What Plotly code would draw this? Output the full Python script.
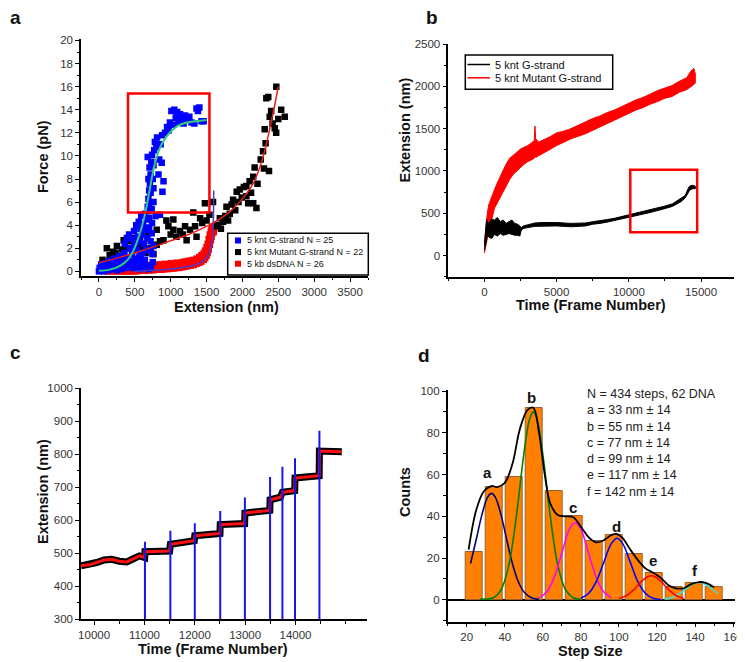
import plotly.graph_objects as go

# ---------------- Panel a : force-extension ----------------
blue_x = [0, 10, 20, 30, 45, 60, 70, 85, 100, 115, 130, 140, 160, 175, 190, 205, 220, 235, 250, 265, 280, 295, 310, 325, 340, 355, 370, 385, 400, 415, 430, 445, 460, 475, 490, 505, 520, 535, 550, 565, 580, 600, 620, 640, 660, 690, 720, 750,
          470, 490, 510, 520, 540, 555, 565, 580, 590, 600, 615, 625, 640, 650, 665, 675, 690, 700, 710, 720, 735, 745, 760, 700, 660, 610, 560, 740, 360, 390, 420,
          680, 690, 700, 700, 710, 690, 720, 705, 730, 680, 740, 760, 750, 770, 720, 735, 780, 800, 810, 830, 840, 860, 875, 885, 900, 880, 850, 760, 760, 790,
          920, 950, 970, 990, 1010, 1030, 1050, 1070, 1090, 1110, 1130, 1150, 1180, 1200, 1230, 1260, 1290, 1330, 1360, 1380, 1400, 1430, 1460]
blue_y = [0, 0.3, 0.1, 0.6, 0.2, 0.4, 0, 0.7, 0.2, 0.5, 0.1, 0.9, 0.3, 0.6, 0.2, 1.1, 0.5, 0.8, 0.1, 0.4, 1.3, 0.7, 0.2, 1.0, 0.5, 1.6, 0.3, 0.8, 1.2, 0.4, 2.0, 0.9, 1.5, 0.3, 2.5, 1.1, 0.6, 1.8, 0.9, 0.2, 1.4, 0.7, 0.3, 1.0, 0.5, 0.2, 0.4, 0.8,
          2.8, 3.5, 2.2, 4.0, 3.0, 4.3, 2.6, 3.7, 4.8, 3.2, 4.1, 2.4, 5.0, 3.6, 4.5, 2.9, 5.2, 3.8, 1.8, 2.6, 3.3, 1.5, 2.2, 4.6, 1.9, 1.6, 1.2, 4.2, 2.4, 2.9, 3.2,
          5.6, 6.3, 5.8, 7.0, 7.6, 8.0, 8.4, 9.0, 9.5, 9.9, 10.1, 9.2, 8.0, 10.5, 6.8, 5.4, 11.2, 10.8, 11.6, 8.4, 9.7, 11.0, 9.4, 6.9, 7.8, 11.8, 4.9, 6.0, 7.2, 4.8,
          12.0, 12.5, 12.2, 12.9, 13.9, 12.7, 14.0, 13.3, 13.8, 12.9, 13.6, 13.2, 12.8, 13.5, 13.2, 13.4, 12.9, 12.8, 14.1, 13.9, 14.2, 13.0, 13.0]

black_x = [50, 80, 110, 150, 200, 230, 250, 280, 320, 345, 390, 420, 460, 500, 540, 575, 575, 620, 650, 690, 720, 760, 805, 805, 850, 900, 940, 968, 1000, 1037, 1037, 1080, 1130, 1170, 1200, 1222, 1270, 1315, 1340, 1360, 1410, 1440, 1477, 1500, 1540, 1590, 1640, 1660, 1685, 1700, 1730, 1760, 1778, 1800, 1824, 1850, 1870, 1900, 1920, 1945, 1963, 1990, 2020, 2055, 2055, 2080, 2100, 2120, 2150, 2150, 2170, 2195, 2210, 2255, 2287, 2300, 2310, 2323, 2333, 2360, 2370, 2380, 2400, 2420, 2450, 2470, 2472, 2500, 2540, 2590]
black_y = [1.0, 0.6, 2.0, 1.4, 1.7, 1.6, 2.2, 1.2, 1.9, 2.7, 2.0, 2.6, 2.9, 1.9, 2.4, 2.7, 2.0, 2.3, 1.6, 3.3, 2.0, 1.5, 2.3, 3.6, 2.6, 2.7, 4.4, 3.9, 3.2, 4.5, 3.6, 3.0, 3.5, 3.2, 3.9, 2.7, 3.6, 5.1, 3.9, 3.0, 4.6, 4.2, 5.9, 4.4, 4.9, 6.0, 3.9, 4.0, 4.6, 3.7, 4.3, 4.8, 5.6, 4.4, 5.0, 5.8, 6.2, 5.3, 6.9, 6.0, 7.1, 6.4, 7.3, 7.4, 6.5, 5.9, 7.8, 6.8, 8.2, 5.9, 9.0, 5.5, 7.6, 9.7, 10.4, 8.9, 12.3, 11.1, 15.0, 15.1, 8.7, 13.4, 13.9, 12.8, 12.4, 12.0, 16.0, 13.2, 14.0, 13.4]

red_x = [120, 160, 200, 240, 280, 320, 360, 400, 440, 480, 520, 560, 600, 640, 680, 720, 760, 800, 840, 880, 920, 960, 1000, 1040, 1080, 1120, 1160, 1200, 1240, 1280, 1320, 1360, 1400, 1430, 1460, 1480, 1500, 1515, 1530, 1545, 1560, 1570, 1580, 1590, 1600]
red_y_low = [0.0, 0.0, 0.0, 0.0, 0.0, 0.0, 0.0, 0.0, 0.0, 0.0, 0.0, 0.05, 0.05, 0.05, 0.1, 0.1, 0.1, 0.15, 0.15, 0.15, 0.2, 0.2, 0.25, 0.25, 0.3, 0.3, 0.35, 0.4, 0.45, 0.5, 0.55, 0.65, 0.75, 0.85, 1.0, 1.15, 1.35, 1.6, 1.9, 2.3, 2.7, 3.0, 3.3, 3.5, 3.7]
red_y_high = [0.2, 0.25, 0.2, 0.3, 0.25, 0.3, 0.35, 0.3, 0.4, 0.35, 0.45, 0.4, 0.5, 0.45, 0.5, 0.55, 0.5, 0.6, 0.55, 0.6, 0.65, 0.6, 0.7, 0.65, 0.75, 0.7, 0.8, 0.85, 0.9, 0.95, 1.0, 1.1, 1.25, 1.4, 1.6, 1.8, 2.1, 2.4, 2.8, 3.2, 3.5, 3.7, 3.85, 3.6, 3.4]

green_fit_x = [0, 150, 300, 400, 480, 550, 600, 650, 700, 750, 800, 850, 900, 1000, 1100, 1200, 1350, 1500]
green_fit_y = [0.05, 0.15, 0.5, 1.0, 1.8, 2.9, 3.9, 5.2, 6.8, 8.5, 9.8, 10.7, 11.3, 12.1, 12.6, 12.85, 13.0, 13.1]
redfit_x = [0, 250, 500, 750, 1000, 1250, 1500, 1750, 1900, 2000, 2100, 2200, 2300, 2400, 2450, 2500]
redfit_y = [0.75, 1.15, 1.6, 2.1, 2.65, 3.2, 3.9, 4.8, 5.6, 6.3, 7.1, 8.3, 10.2, 12.9, 14.4, 16.0]
wlc_x = [480, 700, 900, 1100, 1250, 1350, 1420, 1470, 1510, 1540, 1560, 1575, 1585, 1592, 1597, 1600]
wlc_y = [0, 0.08, 0.15, 0.28, 0.42, 0.58, 0.78, 1.0, 1.3, 1.7, 2.1, 2.6, 3.2, 4.0, 5.0, 7.0]

legend_a = ["5 knt G-strand N = 25", "5 knt Mutant G-strand N = 22", "5 kb dsDNA N = 26"]
legend_a_colors = ["#0000ff", "#000000", "#ff0000"]

# ---------------- Panel b : extension vs time ----------------
bm_t = [0, 100, 200, 300, 400, 500, 700, 1000, 1250, 1500, 1750, 2000, 2250, 2500, 2750, 3000, 3250, 3450, 3500, 3550, 3750, 4000, 4500, 5000, 5500, 6000, 6500, 7000, 7500, 8000, 8500, 9000, 9500, 10000, 10500, 11000, 11500, 12000, 12500, 13000, 13500, 14000, 14300, 14500, 14600]
bm_low = [30, 100, 200, 260, 330, 420, 560, 650, 730, 820, 900, 960, 1000, 1040, 1080, 1110, 1130, 1150, 1200, 1160, 1180, 1200, 1250, 1300, 1340, 1380, 1410, 1440, 1480, 1520, 1560, 1600, 1640, 1680, 1720, 1750, 1790, 1820, 1860, 1880, 1930, 1960, 2000, 2020, 2040]
bm_high = [150, 350, 500, 600, 650, 700, 780, 900, 1000, 1080, 1150, 1180, 1220, 1260, 1280, 1300, 1330, 1360, 1530, 1380, 1340, 1360, 1400, 1450, 1470, 1500, 1540, 1580, 1620, 1650, 1690, 1720, 1760, 1800, 1840, 1870, 1910, 1950, 1980, 2010, 2060, 2100, 2180, 2210, 2150]
bg_t = [0, 100, 150, 200, 300, 500, 700, 900, 1100, 1300, 1500, 1700, 1900, 2100, 2300, 2450, 2550, 2700, 3000, 3500, 4000, 5000, 6000, 6500, 7000, 7500, 8000, 8500, 9000, 9500, 10000, 10500, 11000, 11500, 12000, 12500, 13000, 13300, 13600, 13900, 14100, 14200, 14400, 14600]
bg_low = [60, 120, 180, 250, 220, 200, 250, 230, 260, 240, 250, 260, 250, 240, 240, 230, 300, 320, 330, 345, 350, 350, 340, 345, 350, 370, 380, 395, 410, 430, 455, 470, 490, 510, 530, 555, 580, 605, 635, 680, 740, 770, 790, 790]
bg_high = [120, 300, 430, 400, 380, 430, 420, 450, 400, 420, 380, 400, 420, 380, 370, 350, 330, 350, 365, 385, 390, 390, 380, 380, 385, 400, 410, 425, 440, 460, 480, 500, 520, 540, 560, 585, 610, 640, 670, 710, 790, 820, 830, 820]
legend_b = ["5 knt G-strand", "5 knt Mutant G-strand"]
legend_b_colors = ["#000000", "#ff0000"]

# ---------------- Panel c : stepping trace ----------------
c_t = [9740, 9900, 10050, 10200, 10350, 10500, 10650, 10800, 10900, 11005, 11010, 11500, 11515, 11990, 12000, 12500, 12505, 12990, 12995, 13490, 13495, 13700, 13735, 13740, 13985, 13990, 14470, 14475, 14920]
c_ext = [462, 465, 472, 480, 482, 476, 474, 485, 492, 487, 505, 507, 527, 538, 553, 560, 587, 590, 622, 630, 662, 670, 678, 685, 690, 728, 735, 810, 808]
step_t = [11010, 11515, 12000, 12505, 12995, 13495, 13740, 13990, 14475]
step_top = [535, 568, 591, 628, 669, 731, 762, 788, 871]

# ---------------- Panel d : step-size histogram ----------------
bin_centers = [24, 34.5, 45, 55.5, 66, 76.5, 87, 97.5, 108, 118.5, 129, 139.5, 150]
counts = [23, 54, 59, 92, 52, 40, 28, 31, 22, 13, 6, 8, 6]
ga_x = [22, 25, 28, 31, 33, 35, 38, 41, 44, 47, 50, 54, 58]
ga_y = [17.4, 28.9, 40.8, 49.2, 51, 49.2, 40.8, 28.9, 17.4, 8.9, 3.9, 1.0, 0.2]
gb_x = [27, 34, 38, 42, 46, 50, 53, 55, 57, 60, 64, 68, 72, 76, 80]
gb_y = [0.3, 1.0, 4.7, 16.0, 39.4, 69.7, 86.4, 90, 86.4, 69.7, 39.4, 16.0, 4.7, 1.0, 0.2]
gc_x = [58, 62, 66, 70, 74, 77, 80, 84, 88, 92, 96]
gc_y = [0.9, 3.7, 10.8, 22.4, 33.8, 37, 33.8, 22.4, 10.8, 3.7, 0.9]
gd_x = [80, 84, 88, 92, 96, 99, 102, 106, 110, 114, 118, 122]
gd_y = [0.7, 3.0, 8.6, 17.9, 26.9, 29.5, 26.9, 17.9, 8.6, 3.0, 0.7, 0.1]
ge_x = [100, 104, 108, 112, 115, 117, 119, 122, 126, 130, 134]
ge_y = [0.6, 2.05, 5.0, 8.9, 11.0, 11.5, 11.0, 8.9, 5.0, 2.05, 0.6]
gf_x = [124, 128, 132, 136, 139, 142, 145, 148, 152]
gf_y = [0.3, 1.1, 3.0, 5.75, 7.6, 8.3, 7.6, 5.75, 3.0]
sum_x = [21, 25, 29, 33, 36, 40, 44, 48, 52, 55, 58, 61, 64, 68, 72, 76, 80, 84, 88, 92, 96, 99, 102, 106, 110, 114, 118, 122, 126, 130, 134, 138, 142, 146, 150]
sum_y = [24, 43, 52, 54.5, 54, 56, 65, 82, 91, 92, 80, 60, 46, 40.5, 40, 39.5, 35, 30, 27.5, 28.5, 31, 31.5, 29.5, 24, 19, 15, 13, 10.5, 7, 5.5, 5.5, 7.5, 8.5, 8, 6]
peak_names = ["a", "b", "c", "d", "e", "f"]
peak_pos = [31, 54, 76, 98.5, 118, 140]
peak_lab_y = [61, 97, 44, 35, 19, 14]
info_lines = ["N = 434 steps, 62 DNA", "a = 33 nm ± 14", "b = 55 nm ± 14", "c = 77 nm ± 14",
              "d = 99 nm ± 14", "e = 117 nm ± 14", "f = 142 nm ± 14"]

FONT = "Liberation Sans, Arial, sans-serif"
# the page body has an 8 px margin: the figure is drawn 8 px in from the window's top-left corner
OX, OY = 8, 8
W, H = 745 - OX, 662 - OY
fig = go.Figure()

# panel a
fig.add_trace(go.Scatter(x=red_x + red_x, y=red_y_low + red_y_high, mode="markers",
                         marker=dict(symbol="square", size=6.5, color="#ff0000"), xaxis="x", yaxis="y"))
fig.add_trace(go.Scatter(x=black_x, y=black_y, mode="markers",
                         marker=dict(symbol="square", size=6.5, color="#000000"), xaxis="x", yaxis="y"))
fig.add_trace(go.Scatter(x=blue_x, y=blue_y, mode="markers",
                         marker=dict(symbol="square", size=6.5, color="#0000ff"), xaxis="x", yaxis="y"))
fig.add_trace(go.Scatter(x=wlc_x, y=wlc_y, mode="lines", line=dict(color="#4a3cc8", width=1.5, shape="spline"),
                         xaxis="x", yaxis="y"))
fig.add_trace(go.Scatter(x=redfit_x, y=redfit_y, mode="lines", line=dict(color="#e8201a", width=1.5, shape="spline"),
                         xaxis="x", yaxis="y"))
fig.add_trace(go.Scatter(x=green_fit_x, y=green_fit_y, mode="lines", line=dict(color="#2ccf7a", width=2, shape="spline"),
                         xaxis="x", yaxis="y"))

# panel b
fig.add_trace(go.Scatter(x=bm_t + bm_t[::-1], y=bm_high + bm_low[::-1], mode="lines", fill="toself",
                         fillcolor="#ff0000", line=dict(color="#ff0000", width=1), xaxis="x2", yaxis="y2"))
fig.add_trace(go.Scatter(x=bg_t + bg_t[::-1], y=bg_high + bg_low[::-1], mode="lines", fill="toself",
                         fillcolor="#000000", line=dict(color="#000000", width=1), xaxis="x2", yaxis="y2"))

# panel c
fig.add_trace(go.Scatter(x=c_t, y=c_ext, mode="lines", line=dict(color="black", width=7),
                         xaxis="x3", yaxis="y3"))
fig.add_trace(go.Scatter(x=c_t, y=c_ext, mode="lines", line=dict(color="#ff1010", width=3),
                         xaxis="x3", yaxis="y3"))
vx, vy = [], []
for t, top in zip(step_t, step_top):
    vx += [t, t, None]
    vy += [300, top, None]
fig.add_trace(go.Scatter(x=vx, y=vy, mode="lines", line=dict(color="#1515ee", width=2),
                         xaxis="x3", yaxis="y3"))

# panel d
fig.add_trace(go.Bar(x=bin_centers, y=counts, width=9,
                     marker=dict(color="#ff8000", line=dict(color="#9a6030", width=1)),
                     xaxis="x4", yaxis="y4"))
for gx, gy, col in [(gf_x, gf_y, "#40e0d0"), (ga_x, ga_y, "#000080"), (gb_x, gb_y, "#008000"),
                    (gc_x, gc_y, "#ff00ff"), (gd_x, gd_y, "#0000ff"), (ge_x, ge_y, "#ff0000")]:
    fig.add_trace(go.Scatter(x=gx, y=gy, mode="lines", line=dict(color=col, width=1.6, shape="spline"),
                             xaxis="x4", yaxis="y4"))
fig.add_trace(go.Scatter(x=sum_x, y=sum_y, mode="lines", line=dict(color="black", width=1.8, shape="spline"),
                         xaxis="x4", yaxis="y4"))


def px(x):
    return (x - OX) / W


def py(y):
    return 1 - (y - OY) / H


def dx(a, b):
    return [px(a), px(b)]


def dy(top, bottom):
    return [py(bottom), py(top)]


def ax(**kw):
    base = dict(showline=True, linecolor="black", linewidth=1.5, ticks="outside", ticklen=4, tickwidth=1.3,
                tickcolor="black", showgrid=False, zeroline=False, mirror=False, automargin=False,
                tickfont=dict(family=FONT, size=11.5, color="#333333"))
    base.update(kw)
    return base


def minor(d):
    return dict(ticks="outside", ticklen=2.5, tickwidth=1, tickcolor="black", dtick=d, showgrid=False)


fig.update_layout(
    width=W, height=H, margin=dict(l=0, r=0, t=0, b=0, autoexpand=False),
    paper_bgcolor="white", plot_bgcolor="white", bargap=0, showlegend=False,
    font=dict(family=FONT),
    xaxis=ax(domain=dx(81, 368), anchor="y", range=[-250, 3750], tick0=0, dtick=500, minor=minor(250)),
    yaxis=ax(domain=dy(39.3, 276), anchor="x", range=[-0.4, 20.1], tick0=0, dtick=2, minor=minor(1)),
    xaxis2=ax(domain=dx(448.3, 734.3), anchor="y2", range=[-2500, 17300], tick0=0, dtick=5000,
              tickformat="d", minor=minor(2500)),
    yaxis2=ax(domain=dy(44, 276.7), anchor="x2", range=[-250, 2500], tick0=0, dtick=500, minor=minor(250)),
    xaxis3=ax(domain=dx(81, 367), anchor="y3", range=[9740, 15420], tickvals=[10000, 11000, 12000, 13000, 14000],
              tickformat="d",
              minor=dict(ticks="outside", ticklen=2.5, tickwidth=1, tickcolor="black",
                         tickvals=[10500, 11500, 12500, 13500, 14500, 15000])),
    yaxis3=ax(domain=dy(388.3, 619.3), anchor="x3", range=[300, 1000], tick0=0, dtick=100, minor=minor(50)),
    xaxis4=ax(domain=dx(447.7, 735), anchor="y4", range=[10, 161], tick0=0, dtick=20, minor=minor(10)),
    yaxis4=ax(domain=dy(390, 621.7), anchor="x4", range=[-10.5, 100.5], tick0=0, dtick=20, minor=minor(10),
              zeroline=True, zerolinecolor="black", zerolinewidth=1.5),
)

fig.add_shape(type="rect", xref="x", yref="y", x0=405, x1=1540, y0=5.1, y1=15.4,
              line=dict(color="#ff0000", width=2.5))
fig.add_shape(type="rect", xref="x2", yref="y2", x0=10100, x1=14730, y0=275, y1=1015,
              line=dict(color="#ff0000", width=2.5))


def txt(text, x, y, size, bold=False, angle=0, xanchor="center", color="#111", align="center"):
    fig.add_annotation(text=("<b>%s</b>" % text) if bold else text, x=px(x), y=py(y), xref="paper", yref="paper",
                       xanchor=xanchor, yanchor="middle", showarrow=False, textangle=angle, align=align,
                       font=dict(family=FONT, size=size, color=color))


# axis titles
TS = 14.5
txt("Force (pN)", 43, 157, TS, bold=True, angle=-90)
txt("Extension (nm)", 227, 307, TS, bold=True)
txt("Extension (nm)", 404.5, 130, TS, bold=True, angle=-90)
txt("Time (Frame Number)", 591, 305, TS, bold=True)
txt("Extension (nm)", 43, 492, TS, bold=True, angle=-90)
txt("Time (Frame Number)", 213, 649, TS, bold=True)
txt("Counts", 405, 492, TS, bold=True, angle=-90)
txt("Step Size", 590, 651, TS, bold=True)

# panel letters (kept fully inside the drawable area)
for lab, lx, ly in [("a", 15, 17), ("b", 432, 18), ("c", 15, 352), ("d", 424, 355)]:
    txt(lab, lx, ly, 19, bold=True)

# legend a (drawn box)
fig.add_shape(type="rect", xref="paper", yref="paper", x0=px(227.7), x1=px(368.3), y0=py(275), y1=py(233.3),
              line=dict(color="black", width=1.5), fillcolor="white", layer="above")
for i, (lab, col) in enumerate(zip(legend_a, legend_a_colors)):
    ry = 240.5 + i * 11.6
    fig.add_shape(type="rect", xref="paper", yref="paper", x0=px(235), x1=px(241), y0=py(ry + 3), y1=py(ry - 3),
                  line=dict(width=0), fillcolor=col, layer="above")
    txt(lab, 245, ry, 9, xanchor="left", color="#111")

# legend b (drawn box)
fig.add_shape(type="rect", xref="paper", yref="paper", x0=px(465.3), x1=px(612.7), y0=py(89.3), y1=py(55),
              line=dict(color="black", width=1.5), fillcolor="white", layer="above")
for i, (lab, col) in enumerate(zip(legend_b, legend_b_colors)):
    ry = 64.5 + i * 13.3
    fig.add_shape(type="line", xref="paper", yref="paper", x0=px(467.5), x1=px(490), y0=py(ry), y1=py(ry),
                  line=dict(color=col, width=1.5), layer="above")
    txt(lab, 493, ry, 11, xanchor="left", color="#111")

# panel d labels
for nm, xx, yy in zip(peak_names, peak_pos, peak_lab_y):
    fig.add_annotation(text="<b>%s</b>" % nm, x=xx, y=yy, xref="x4", yref="y4", showarrow=False,
                       xanchor="center", yanchor="middle", font=dict(family=FONT, size=15, color="#111"))

fig.add_annotation(text="<br>".join(info_lines), x=px(585), y=py(385), xref="paper", yref="paper",
                   xanchor="left", yanchor="top", align="left", showarrow=False,
                   font=dict(family=FONT, size=12.5, color="#222"))

fig.write_html("out.html")
